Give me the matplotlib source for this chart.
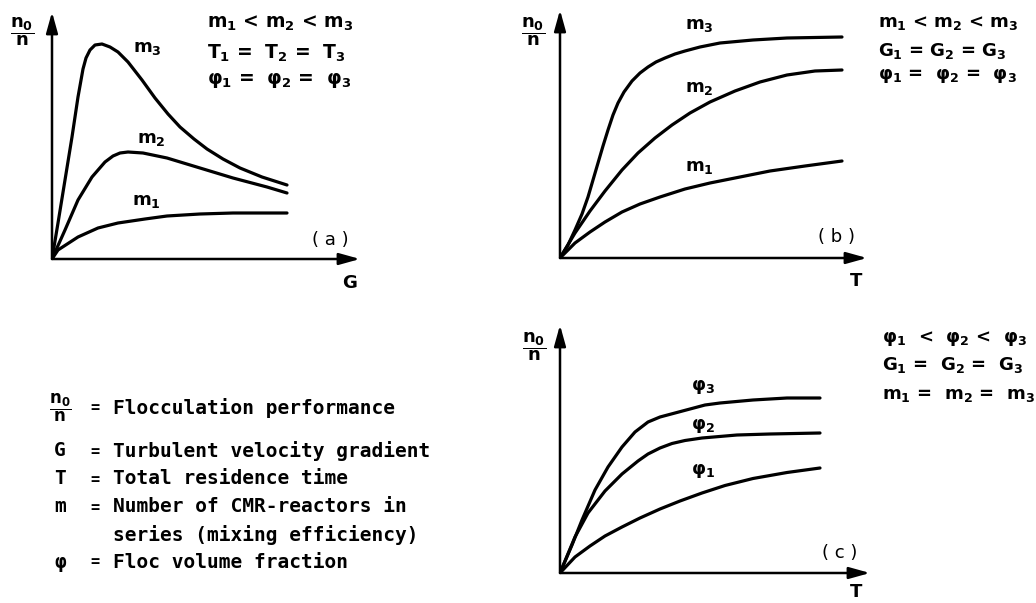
import matplotlib
matplotlib.use("Agg")
import matplotlib.pyplot as plt

plt.rcParams["mathtext.fontset"] = "custom"
plt.rcParams["mathtext.rm"] = "DejaVu Sans:bold"
plt.rcParams["mathtext.it"] = "DejaVu Sans:bold"
plt.rcParams["mathtext.bf"] = "DejaVu Sans:bold"
plt.rcParams["mathtext.default"] = "rm"

# schematic curves, units = distance from the axes origin
# (a) n0/n against G
a_m3_x = [0, 6, 13, 20, 26, 31, 34, 38, 43, 50, 58, 66, 76, 90, 103, 116, 128, 142, 155, 171, 188, 210, 235]
a_m3_y = [0, 36, 79, 122, 162, 190, 201, 209, 214, 215, 212, 207, 197, 179, 161, 145, 132, 120, 110, 100, 91, 82, 74]
a_m2_x = [0, 13, 26, 40, 53, 61, 68, 76, 91, 115, 148, 181, 215, 235]
a_m2_y = [0, 29, 59, 82, 97, 103, 106, 107, 106, 101, 91, 81, 72, 66]
a_m1_x = [0, 6, 26, 46, 66, 93, 115, 148, 181, 235]
a_m1_y = [0, 9, 22, 31, 36, 40, 43, 45, 46, 46]

# (b) n0/n against T, m varies
b_m3_x = [0, 8, 15, 22, 28, 33, 38, 43, 48, 53, 58, 64, 72, 80, 88, 96, 105, 115, 125, 140, 160, 193, 227, 282]
b_m3_y = [0, 13, 28, 44, 61, 78, 95, 112, 128, 143, 155, 166, 177, 185, 191, 196, 200, 204, 207, 211, 215, 218, 220, 221]
b_m2_x = [0, 15, 30, 45, 62, 78, 95, 112, 130, 150, 175, 200, 227, 255, 282]
b_m2_y = [0, 25, 47, 67, 88, 105, 120, 133, 145, 156, 167, 176, 183, 187, 188]
b_m1_x = [0, 15, 30, 45, 62, 80, 100, 125, 150, 180, 210, 245, 282]
b_m1_y = [0, 15, 26, 36, 46, 54, 61, 69, 75, 81, 87, 92, 97]

# (c) n0/n against T, phi varies
c_p3_x = [0, 12, 22, 35, 48, 62, 75, 88, 100, 115, 130, 145, 160, 193, 227, 260]
c_p3_y = [0, 28, 53, 83, 106, 126, 141, 151, 156, 160, 164, 168, 170, 173, 175, 175]
c_p2_x = [0, 15, 28, 45, 62, 78, 88, 100, 112, 125, 142, 177, 210, 260]
c_p2_y = [0, 36, 60, 82, 99, 112, 119, 125, 129.5, 132.5, 135, 138, 139, 140]
c_p1_x = [0, 15, 30, 45, 62, 80, 100, 120, 142, 165, 193, 227, 260]
c_p1_y = [0, 16, 27, 37, 46, 55, 64, 72, 80, 87.5, 94.5, 100.5, 105]

legend_symbols = [r"$\dfrac{n_0}{n}$", "G", "T", "m", "", "φ"]
legend_texts = ["Flocculation performance", "Turbulent velocity gradient",
                "Total residence time", "Number of CMR-reactors in",
                "series (mixing efficiency)", "Floc volume fraction"]

W, H = 1036, 603
fig = plt.figure(figsize=(W / 100, H / 100), dpi=100)


def ftext(x, y, s, **kw):
    kw.setdefault("fontsize", 13)
    kw.setdefault("fontweight", "bold")
    kw.setdefault("va", "center")
    fig.text(x / W, 1 - y / H, s, **kw)


def panel(ox, oy, w, h):
    ax = fig.add_axes([ox / W, 1 - oy / H, w / W, h / H])
    ax.set_xlim(0, w)
    ax.set_ylim(0, h)
    ax.axis("off")
    for tip in [(1, 0), (0, 1)]:
        ax.annotate("", xy=tip, xytext=(0, 0), xycoords="axes fraction",
                    arrowprops=dict(arrowstyle="-|>,head_length=0.9,head_width=0.25",
                                    lw=1.8, color="black", shrinkA=0, shrinkB=0,
                                    mutation_scale=14))
    return ax


def curve(ax, x, y):
    ax.plot(x, y, color="black", lw=2.3, solid_capstyle="round",
            solid_joinstyle="round")


ax = panel(52, 259, 308, 247)
curve(ax, a_m3_x, a_m3_y)
curve(ax, a_m2_x, a_m2_y)
curve(ax, a_m1_x, a_m1_y)

ax = panel(560, 258, 307, 248)
curve(ax, b_m3_x, b_m3_y)
curve(ax, b_m2_x, b_m2_y)
curve(ax, b_m1_x, b_m1_y)

ax = panel(560, 573, 310, 248)
curve(ax, c_p3_x, c_p3_y)
curve(ax, c_p2_x, c_p2_y)
curve(ax, c_p1_x, c_p1_y)

# y-axis labels
frac = r"$\dfrac{n_0}{n}$"
ftext(22, 32, frac, ha="center", fontsize=13)
ftext(533, 32, frac, ha="center", fontsize=13)
ftext(534, 347, frac, ha="center", fontsize=13)

# x-axis labels
ftext(350, 283, "G", ha="center")
ftext(856, 281, "T", ha="center")
ftext(856, 592, "T", ha="center")

# curve labels
ftext(147, 48, "m$_3$", ha="center")
ftext(151, 139, "m$_2$", ha="center")
ftext(146, 201, "m$_1$", ha="center")
ftext(699, 25, "m$_3$", ha="center")
ftext(699, 88, "m$_2$", ha="center")
ftext(699, 167, "m$_1$", ha="center")
ftext(703, 387, "φ$_3$", ha="center")
ftext(703, 426, "φ$_2$", ha="center")
ftext(703, 471, "φ$_1$", ha="center")

# panel tags
ftext(330, 240, "( a )", ha="center", fontweight="normal")
ftext(837, 237, "( b )", ha="center", fontweight="normal")
ftext(840, 553, "( c )", ha="center", fontweight="normal")

# condition blocks
ftext(207, 23, "m$_1$ < m$_2$ < m$_3$", fontsize=13.5)
ftext(207, 53, "T$_1$ =  T$_2$ =  T$_3$", fontsize=13.5)
ftext(207, 80, "φ$_1$ =  φ$_2$ =  φ$_3$", fontsize=13.5)
ftext(878, 23, "m$_1$ < m$_2$ < m$_3$")
ftext(878, 51, "G$_1$ = G$_2$ = G$_3$")
ftext(878, 76, "φ$_1$ =  φ$_2$ =  φ$_3$")
ftext(882, 338, "φ$_1$  <  φ$_2$ <  φ$_3$")
ftext(882, 365, "G$_1$ =  G$_2$ =  G$_3$")
ftext(882, 395, "m$_1$ =  m$_2$ =  m$_3$")

# definitions
rows_y = [408, 451, 479, 507, 535, 562]
for y, sym, txt in zip(rows_y, legend_symbols, legend_texts):
    if sym:
        size = 12 if sym.startswith("$") else 14
        ftext(60, y, sym, ha="center", family="DejaVu Sans Mono", fontsize=size)
        ftext(95, y, "=", ha="center", family="DejaVu Sans Mono", fontsize=11)
    ftext(113, y, txt, family="DejaVu Sans Mono", fontsize=14)

fig.savefig("out.png", dpi=100, facecolor="white")
